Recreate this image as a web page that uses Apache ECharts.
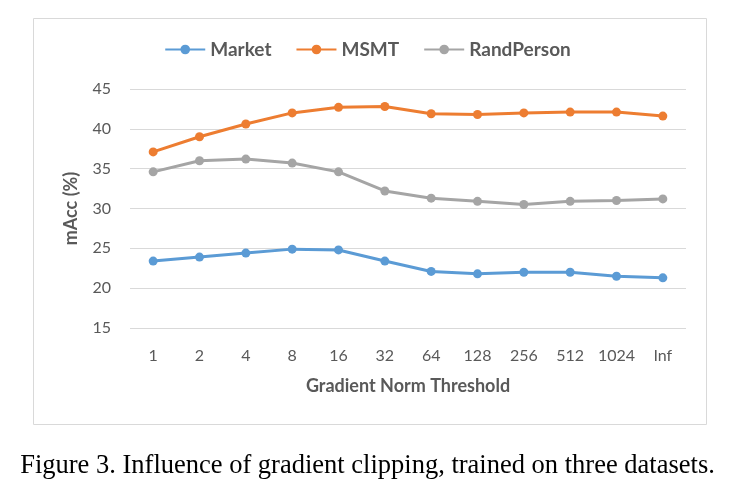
<!DOCTYPE html>
<html><head><meta charset="utf-8">
<script src="https://cdn.jsdelivr.net/npm/echarts@6/dist/echarts.min.js"></script>
<style>html,body{margin:0;padding:0;background:#fff}#c{width:735px;height:498px}</style>
</head><body><div id="c"></div>
<script>
const categories = ['1','2','4','8','16','32','64','128','256','512','1024','Inf'];
const market = [23.4, 23.9, 24.4, 24.9, 24.8, 23.4, 22.1, 21.8, 22.0, 22.0, 21.5, 21.3];
const msmt = [37.1, 39.0, 40.6, 42.0, 42.7, 42.8, 41.9, 41.8, 42.0, 42.1, 42.1, 41.6];
const randPerson = [34.6, 36.0, 36.2, 35.7, 34.6, 32.2, 31.3, 30.9, 30.5, 30.9, 31.0, 31.2];
const seriesNames = ['Market', 'MSMT', 'RandPerson'];
const colors = ['#5B9BD5', '#ED7D31', '#A5A5A5'];
const font = 'Lato, "Open Sans", sans-serif';
const chart = echarts.init(document.getElementById('c'));
const mk = (name, data, color) => ({
  name, type: 'line', data, color,
  symbol: 'circle', symbolSize: 9,
  lineStyle: { width: 3, color }, itemStyle: { color },
  animation: false
});
chart.setOption({
  animation: false,
  graphic: [
    { type: 'rect', shape: { x: 33.5, y: 18.5, width: 673, height: 406 }, style: { fill: 'none', stroke: '#d9d9d9', lineWidth: 1 }, z: -1 },
    { type: 'text', left: 'center', top: 453, style: { text: 'Figure 3. Influence of gradient clipping, trained on three datasets.', font: '26.5px "Liberation Serif", "Times New Roman", serif', fill: '#000' } }
  ],
  legend: {
    top: 35, left: 'center', itemWidth: 40, itemHeight: 12, itemGap: 24,
    textStyle: { fontFamily: font, fontSize: 19, fontWeight: 'bold', color: '#595959' },
    data: seriesNames
  },
  grid: { left: 130, right: 49, top: 89, bottom: 170, containLabel: false },
  xAxis: {
    type: 'category', data: categories, boundaryGap: true,
    axisLine: { show: false }, axisTick: { show: false },
    axisLabel: { interval: 0, fontFamily: font, fontSize: 16, color: '#595959', margin: 20 },
    name: 'Gradient Norm Threshold', nameLocation: 'middle', nameGap: 49,
    nameTextStyle: { fontFamily: font, fontSize: 18, fontWeight: 'bold', color: '#595959' }
  },
  yAxis: {
    type: 'value', min: 15, max: 45, interval: 5,
    axisLine: { show: false }, axisTick: { show: false },
    splitLine: { lineStyle: { color: '#d9d9d9', width: 1 } },
    axisLabel: { fontFamily: font, fontSize: 16, color: '#595959', margin: 19 },
    name: 'mAcc (%)', nameLocation: 'middle', nameGap: 50, nameRotate: 90,
    nameTextStyle: { fontFamily: font, fontSize: 18, fontWeight: 'bold', color: '#595959' }
  },
  series: [
    mk(seriesNames[0], market, colors[0]),
    mk(seriesNames[1], msmt, colors[1]),
    mk(seriesNames[2], randPerson, colors[2])
  ]
});
</script></body></html>
